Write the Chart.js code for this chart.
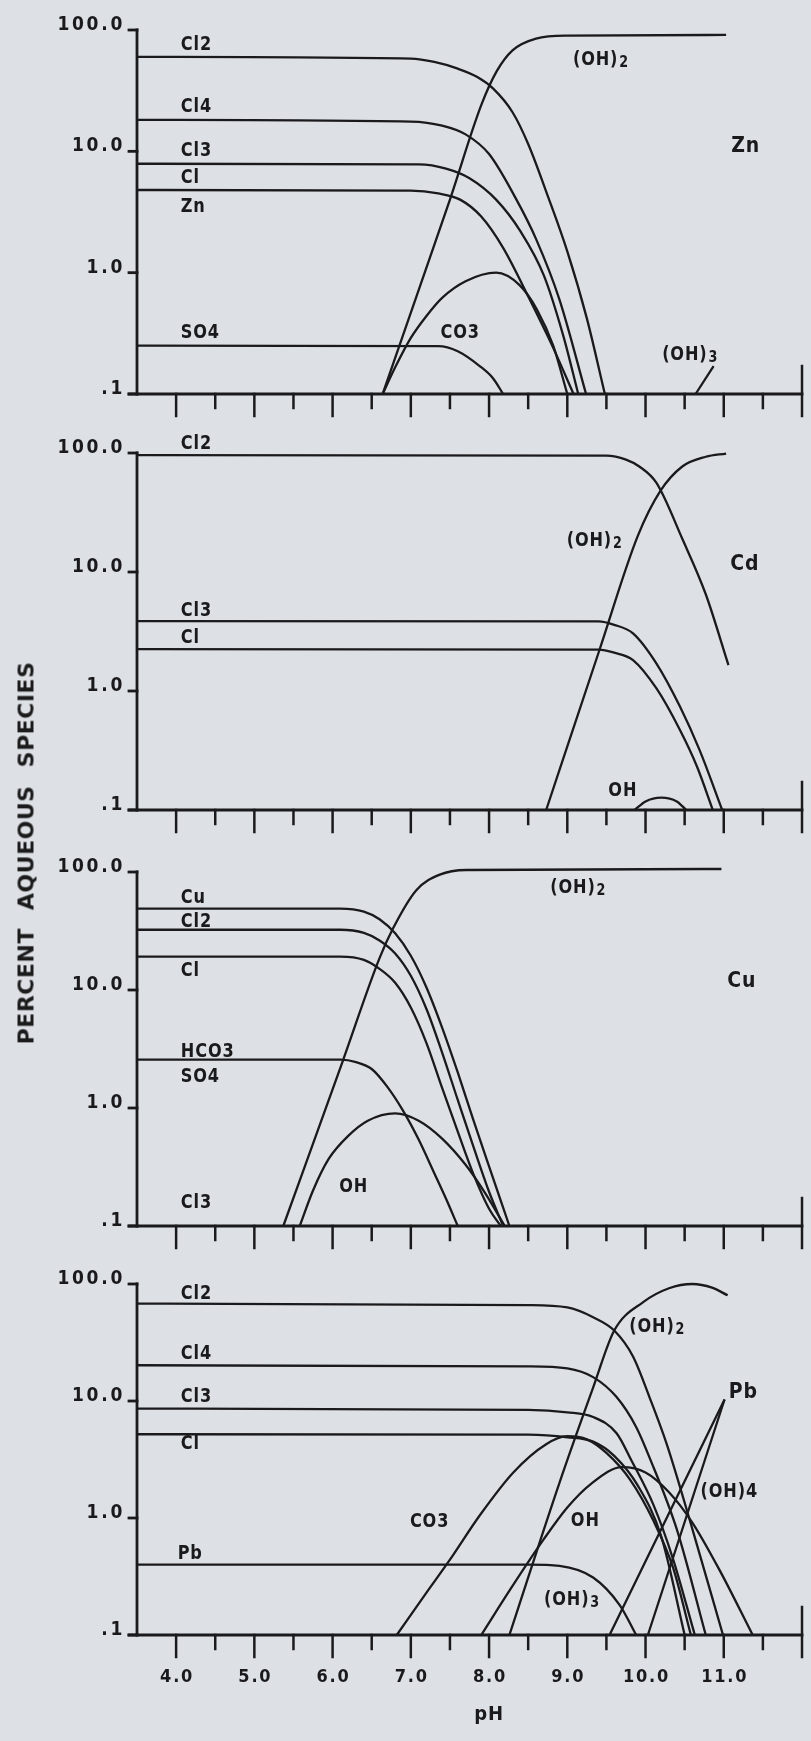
<!DOCTYPE html>
<html>
<head>
<meta charset="utf-8">
<title>Percent aqueous species vs pH</title>
<script src="https://cdn.jsdelivr.net/npm/chart.js@4.4.1/dist/chart.umd.min.js"></script>
<style>
  html, body { margin: 0; padding: 0; background: #dde1e6; }
  #page { position: relative; width: 811px; height: 1741px; background: #dde1e6; overflow: hidden; }
  #page canvas { position: absolute; left: 0; }
  #ytitle {
    position: absolute; left: 26px; top: 853px;
    transform: translate(-50%, -50%) rotate(-90deg);
    white-space: nowrap; color: #1b1b1b;
    font: bold 22px "DejaVu Sans", sans-serif;
    letter-spacing: 0.5px; word-spacing: 10px;
  }
</style>
</head>
<body>
<div id="page">
  <canvas id="zn" width="811" height="432" style="top:0px"></canvas>
  <canvas id="cd" width="811" height="408" style="top:432px"></canvas>
  <canvas id="cu" width="811" height="412" style="top:840px"></canvas>
  <canvas id="pb" width="811" height="489" style="top:1252px"></canvas>
  <div id="ytitle">PERCENT AQUEOUS SPECIES</div>
</div>
<script>
/* ---- Axes ---- */
var PH_MIN = 3.5, PH_MAX = 12.0;
var PH_MAJOR = [4, 5, 6, 7, 8, 9, 10, 11];
var PH_MINOR = [4.5, 5.5, 6.5, 7.5, 8.5, 9.5, 10.5, 11.5];
var PH_LABELS = ['4.0', '5.0', '6.0', '7.0', '8.0', '9.0', '10.0', '11.0'];
var PCT_TICKS = [100, 10, 1, 0.1];
var PCT_LABELS = ['100.0', '10.0', '1.0', '.1'];

/* ---- Zn panel: [pH, percent] ---- */
var ZN_OH2 = [[6.64, 0.1], [7.11, 0.75], [7.5, 4.0], [7.9, 24], [8.1, 46], [8.3, 68], [8.6, 85], [9.0, 90], [11.03, 91]];
var ZN_CL2 = [[3.5, 60], [7.0, 58], [7.3, 54.5], [7.6, 48], [7.85, 41], [8.05, 33], [8.3, 21], [8.5, 11.5], [8.75, 4.3], [9.0, 1.5], [9.25, 0.42], [9.48, 0.1]];
var ZN_CL4 = [[3.5, 18.2], [7.0, 17.6], [7.4, 16.3], [7.7, 13.8], [8.0, 9.5], [8.35, 4.0], [8.6, 1.9], [8.9, 0.6], [9.24, 0.1]];
var ZN_CL3 = [[3.5, 7.9], [7.1, 7.8], [7.45, 7.2], [7.75, 6.0], [8.09, 4.0], [8.4, 2.2], [8.7, 0.95], [8.95, 0.3], [9.14, 0.1]];
var ZN_CL = [[3.5, 4.8], [7.0, 4.75], [7.35, 4.5], [7.63, 4.0], [7.9, 2.9], [8.18, 1.6], [8.52, 0.6], [8.82, 0.24], [9.08, 0.1]];
var ZN_CO3 = [[6.64, 0.1], [6.8, 0.166], [7.0, 0.29], [7.2, 0.44], [7.4, 0.62], [7.7, 0.85], [8.09, 1.0], [8.39, 0.79], [8.61, 0.5], [8.82, 0.25], [9.0, 0.1]];
var ZN_SO4 = [[3.5, 0.25], [7.35, 0.248], [7.6, 0.225], [7.88, 0.17], [8.05, 0.135], [8.18, 0.1]];
var ZN_OH3 = [[10.64, 0.1], [10.87, 0.17]];

/* ---- Cd panel ---- */
var CD_CL2 = [[3.5, 96], [9.5, 95], [9.75, 88], [9.92, 77], [10.14, 56], [10.47, 19], [10.77, 6.5], [11.06, 1.65]];
var CD_OH2 = [[8.73, 0.1], [9.41, 2.2], [9.9, 20], [10.19, 48], [10.47, 77], [10.77, 93], [11.03, 99]];
var CD_CL3 = [[3.5, 3.87], [9.4, 3.85], [9.6, 3.6], [9.84, 3.05], [10.14, 1.7], [10.44, 0.74], [10.69, 0.32], [10.98, 0.1]];
var CD_CL = [[3.5, 2.25], [9.4, 2.23], [9.6, 2.1], [9.84, 1.82], [10.14, 1.05], [10.44, 0.47], [10.66, 0.23], [10.86, 0.1]];
var CD_OH = [[9.86, 0.1], [10.0, 0.118], [10.2, 0.127], [10.4, 0.118], [10.52, 0.1]];

/* ---- Cu panel ---- */
var CU_OH2 = [[5.37, 0.1], [6.13, 2.5], [6.6, 18.6], [6.77, 33], [7.07, 70], [7.37, 95], [7.71, 104], [10.97, 106]];
var CU_CU = [[3.5, 49], [6.1, 49], [6.4, 46.2], [6.6, 39.8], [6.8, 30.2], [7.0, 19.5], [7.2, 10.5], [7.4, 4.8], [7.6, 2.0], [7.8, 0.79], [8.0, 0.32], [8.26, 0.1]];
var CU_CL2 = [[3.5, 32.4], [6.1, 32.4], [6.4, 30.5], [6.6, 26.3], [6.8, 20.4], [7.0, 13.2], [7.2, 6.9], [7.4, 2.95], [7.6, 1.17], [7.8, 0.47], [8.0, 0.195], [8.18, 0.1]];
var CU_CL = [[3.5, 19.2], [6.1, 19.2], [6.4, 18.0], [6.6, 15.1], [6.8, 11.5], [7.0, 7.1], [7.2, 3.55], [7.4, 1.48], [7.6, 0.63], [7.8, 0.275], [8.0, 0.14], [8.15, 0.1]];
var CU_HCO3 = [[3.5, 2.57], [6.1, 2.57], [6.3, 2.45], [6.5, 2.14], [6.7, 1.51], [6.9, 0.95], [7.1, 0.54], [7.3, 0.28], [7.45, 0.17], [7.6, 0.1]];
var CU_OH = [[5.58, 0.1], [5.75, 0.2], [5.95, 0.37], [6.2, 0.58], [6.45, 0.78], [6.8, 0.9], [7.1, 0.78], [7.4, 0.55], [7.7, 0.33], [7.95, 0.19], [8.2, 0.1]];

/* ---- Pb panel ---- */
var PB_CL2 = [[3.5, 68], [8.5, 66], [9.0, 63], [9.33, 52], [9.6, 40], [9.84, 24], [10.05, 10.8], [10.27, 4.3], [10.6, 0.8], [10.99, 0.1]];
var PB_CL4 = [[3.5, 20.2], [8.5, 19.8], [9.0, 19], [9.33, 16], [9.63, 10.8], [9.88, 6.0], [10.05, 3.3], [10.4, 0.8], [10.77, 0.1]];
var PB_CL3 = [[3.5, 8.6], [8.5, 8.4], [9.0, 8.0], [9.33, 7.3], [9.63, 5.3], [9.82, 3.1], [10.1, 1.3], [10.35, 0.45], [10.63, 0.1]];
var PB_CL = [[3.5, 5.2], [8.5, 5.15], [9.0, 4.9], [9.33, 4.5], [9.6, 3.4], [9.9, 1.9], [10.2, 0.7], [10.5, 0.1]];
var PB_CO3 = [[6.82, 0.1], [7.2, 0.23], [7.5, 0.44], [7.88, 1.05], [8.31, 2.45], [8.73, 4.27], [9.0, 5.0], [9.25, 4.7], [9.5, 3.6], [9.8, 2.14], [10.1, 0.95], [10.35, 0.38], [10.58, 0.1]];
var PB_OH = [[7.9, 0.1], [8.3, 0.263], [8.7, 0.66], [9.0, 1.23], [9.3, 1.95], [9.7, 2.72], [10.0, 2.45], [10.3, 1.66], [10.6, 0.91], [10.95, 0.355], [11.37, 0.1]];
var PB_OH2 = [[8.26, 0.1], [8.9, 2.0], [9.33, 13], [9.6, 40], [9.97, 70], [10.3, 92], [10.6, 100], [10.85, 93], [11.05, 80]];
var PB_PB = [[3.5, 0.4], [8.5, 0.4], [8.9, 0.39], [9.33, 0.31], [9.67, 0.18], [9.88, 0.1]];
var PB_LINE_A = [[9.54, 0.1], [11.01, 10.3]];
var PB_LINE_B = [[10.03, 0.1], [11.01, 10.3]];

/* ---- Curve labels: [text, pH, percent, align] ( _ marks a subscript) ---- */
var ZN_LABELS = [['Cl2', 4.06, 75, 'left'], ['Cl4', 4.06, 23.2, 'left'], ['Cl3', 4.06, 10.1, 'left'],
  ['Cl', 4.06, 6.0, 'left'], ['Zn', 4.06, 3.48, 'left'], ['SO4', 4.06, 0.318, 'left'],
  ['CO3', 7.63, 0.318, 'center'], ['(OH)_2', 9.43, 56.6, 'center'], ['(OH)_3', 10.57, 0.21, 'center']];
var CD_LABELS = [['Cl2', 4.06, 119, 'left'], ['Cl3', 4.06, 4.7, 'left'], ['Cl', 4.06, 2.79, 'left'],
  ['(OH)_2', 9.35, 18.2, 'center'], ['OH', 9.71, 0.144, 'center']];
var CU_LABELS = [['Cu', 4.06, 60, 'left'], ['Cl2', 4.06, 37.7, 'left'], ['Cl', 4.06, 14.5, 'left'],
  ['HCO3', 4.06, 2.99, 'left'], ['SO4', 4.06, 1.83, 'left'], ['Cl3', 4.06, 0.157, 'left'],
  ['OH', 6.27, 0.214, 'center'], ['(OH)_2', 9.14, 73, 'center']];
var PB_LABELS = [['Cl2', 4.06, 82, 'left'], ['Cl4', 4.06, 25, 'left'], ['Cl3', 4.06, 10.8, 'left'],
  ['Cl', 4.06, 4.29, 'left'], ['Pb', 4.02, 0.49, 'left'], ['CO3', 7.24, 0.925, 'center'],
  ['OH', 9.23, 0.94, 'center'], ['(OH)_3', 9.06, 0.2, 'center'], ['(OH)_2', 10.15, 42.9, 'center'],
  ['(OH)4', 11.07, 1.67, 'center']];

/* ---- Metal name per panel: [text, pH, percent] ---- */
var ZN_METAL = ['Zn', 11.28, 10.9];
var CD_METAL = ['Cd', 11.27, 11.5];
var CU_METAL = ['Cu', 11.23, 11.7];
var PB_METAL = ['Pb', 11.25, 11.7];

var INK = '#1a1a1c';
var FONT = '"DejaVu Sans", sans-serif';

function toPoints(pairs) {
  return pairs.map(function (p) { return { x: p[0], y: p[1] }; });
}

function strokeLine(ctx, xa, ya, xb, yb) {
  ctx.beginPath();
  ctx.moveTo(xa, ya);
  ctx.lineTo(xb, yb);
  ctx.stroke();
}

function setSpacing(ctx, px) {
  if ('letterSpacing' in ctx) ctx.letterSpacing = px + 'px';
}

// narrow bold lettering; "(OH)_2" puts the 2 as a subscript
function drawText(ctx, text, x, y, align, size, sx) {
  var parts = text.split('_');
  var main = parts[0], sub = parts[1] || '';
  var subSize = Math.round(size * 0.8);
  ctx.save();
  ctx.translate(x, y);
  ctx.scale(sx, 1);
  ctx.textAlign = 'left';
  ctx.textBaseline = 'middle';
  ctx.font = 'bold ' + size + 'px ' + FONT;
  var wMain = ctx.measureText(main).width;
  ctx.font = 'bold ' + subSize + 'px ' + FONT;
  var wSub = sub ? ctx.measureText(sub).width + 1 : 0;
  var total = wMain + wSub;
  var start = align === 'left' ? 0 : (align === 'right' ? -total : -total / 2);
  ctx.font = 'bold ' + size + 'px ' + FONT;
  ctx.fillText(main, start, 0);
  if (sub) {
    ctx.font = 'bold ' + subSize + 'px ' + FONT;
    ctx.fillText(sub, start + wMain + 1, 3);
  }
  ctx.restore();
}

// ---- Axis frame and lettering, placed through the chart's own scales ----
var paperAxes = {
  id: 'paperAxes',
  afterDatasetsDraw: function (chart, args, opts) {
    var ctx = chart.ctx;
    var xs = chart.scales.x, ys = chart.scales.y;
    var x0 = xs.getPixelForValue(PH_MIN), x1 = xs.getPixelForValue(PH_MAX);
    var yTop = ys.getPixelForValue(100), yBot = ys.getPixelForValue(0.1);

    ctx.save();
    ctx.strokeStyle = INK;
    ctx.fillStyle = INK;
    ctx.lineCap = 'square';
    ctx.lineWidth = 2.8;

    // y axis + decade ticks
    strokeLine(ctx, x0, yTop, x0, yBot);
    PCT_TICKS.forEach(function (v) {
      var y = ys.getPixelForValue(v);
      strokeLine(ctx, x0 - 8, y, x0, y);
    });

    // x axis, half-unit ticks and end bar
    strokeLine(ctx, x0 - 8, yBot, x1, yBot);
    ctx.lineWidth = 2.5;
    PH_MAJOR.forEach(function (v) {
      var x = xs.getPixelForValue(v);
      strokeLine(ctx, x, yBot, x, yBot + 22);
    });
    PH_MINOR.forEach(function (v) {
      var x = xs.getPixelForValue(v);
      strokeLine(ctx, x, yBot, x, yBot + 14);
    });
    strokeLine(ctx, x1, yBot - 28, x1, yBot + 22);

    // percent tick labels
    setSpacing(ctx, 3);
    PCT_TICKS.forEach(function (v, i) {
      drawText(ctx, PCT_LABELS[i], x0 - 12, ys.getPixelForValue(v) - 5, 'right', 19, 0.9);
    });

    // pH tick labels on the bottom panel only
    if (opts.showPh) {
      setSpacing(ctx, 2);
      PH_MAJOR.forEach(function (v, i) {
        drawText(ctx, PH_LABELS[i], xs.getPixelForValue(v) + 1, yBot + 42, 'center', 18, 0.9);
      });
      setSpacing(ctx, 1);
      drawText(ctx, 'pH', xs.getPixelForValue(8.0), yBot + 80, 'center', 20, 0.9);
    }

    // curve labels
    setSpacing(ctx, 1);
    (opts.labels || []).forEach(function (l) {
      drawText(ctx, l[0], xs.getPixelForValue(l[1]), ys.getPixelForValue(l[2]), l[3], 19, 0.85);
    });
    if (opts.metal) {
      var m = opts.metal;
      drawText(ctx, m[0], xs.getPixelForValue(m[1]), ys.getPixelForValue(m[2]), 'center', 21, 0.9);
    }
    ctx.restore();
  }
};

function makePanel(canvasId, curves, labels, metal, pad, showPh) {
  var datasets = curves.map(function (c) {
    return {
      data: toPoints(c),
      borderColor: INK,
      borderWidth: 2.3,
      pointRadius: 0,
      fill: false,
      clip: false,
      cubicInterpolationMode: 'monotone'
    };
  });
  return new Chart(document.getElementById(canvasId), {
    type: 'line',
    data: { datasets: datasets },
    options: {
      responsive: false,
      animation: false,
      devicePixelRatio: 1,
      layout: { padding: pad },
      plugins: {
        legend: { display: false },
        tooltip: { enabled: false },
        paperAxes: { labels: labels, metal: metal, showPh: showPh }
      },
      scales: {
        x: { type: 'linear', min: PH_MIN, max: PH_MAX, display: false },
        y: { type: 'logarithmic', min: 0.1, max: 100, display: false }
      }
    },
    plugins: [paperAxes]
  });
}

makePanel('zn', [ZN_OH2, ZN_CL2, ZN_CL4, ZN_CL3, ZN_CL, ZN_CO3, ZN_SO4, ZN_OH3], ZN_LABELS, ZN_METAL,
  { left: 137, right: 9, top: 30, bottom: 38 }, false);
makePanel('cd', [CD_CL2, CD_OH2, CD_CL3, CD_CL, CD_OH], CD_LABELS, CD_METAL,
  { left: 137, right: 9, top: 21, bottom: 30 }, false);
makePanel('cu', [CU_OH2, CU_CU, CU_CL2, CU_CL, CU_HCO3, CU_OH], CU_LABELS, CU_METAL,
  { left: 137, right: 9, top: 32, bottom: 26 }, false);
makePanel('pb', [PB_CL2, PB_CL4, PB_CL3, PB_CL, PB_CO3, PB_OH, PB_OH2, PB_PB, PB_LINE_A, PB_LINE_B], PB_LABELS, PB_METAL,
  { left: 137, right: 9, top: 32, bottom: 106 }, true);
</script>
</body>
</html>
